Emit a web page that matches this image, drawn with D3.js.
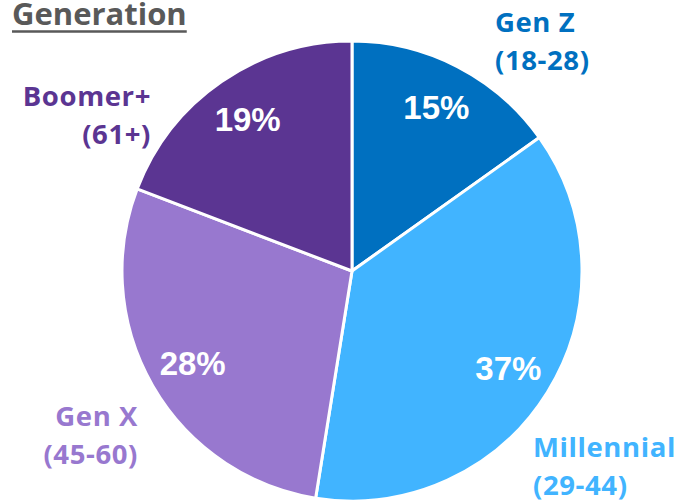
<!DOCTYPE html>
<html>
<head>
<meta charset="utf-8">
<script src="https://cdn.jsdelivr.net/npm/d3@7"></script>
<style>
    body { margin: 0; background: #fff; }
    svg { display: block; }
</style>
</head>
<body>
<svg width="679" height="504"></svg>
<script>
// data
const generations = ["Gen Z", "Millennial", "Gen X", "Boomer+"];
const ageRanges = ["(18-28)", "(29-44)", "(45-60)", "(61+)"];
const shares = [15, 37, 28, 19];
const colors = ["#0070C0", "#41B4FF", "#9878CF", "#5B3592"];

// where the category labels sit (x, first baseline, text-anchor)
const labelLayout = [
    { x: 495, y: 32, anchor: "start" },
    { x: 533, y: 457, anchor: "start" },
    { x: 138, y: 426, anchor: "end" },
    { x: 151, y: 106, anchor: "end" }
];

const svg = d3.select("svg");
const cx = 352, cy = 271, radius = 230;

// title
const title = svg.append("text")
    .attr("x", 12)
    .attr("y", 25)
    .attr("font-family", "'Open Sans', sans-serif")
    .attr("font-weight", "bold")
    .attr("font-size", "31px")
    .attr("fill", "#595959")
    .text("Generation");
const tw = title.node().getComputedTextLength();
svg.append("line")
    .attr("x1", 12).attr("x2", 12 + tw)
    .attr("y1", 31.5).attr("y2", 31.5)
    .attr("stroke", "#595959")
    .attr("stroke-width", 2.5);

const pie = d3.pie().sort(null).value(d => d);
const arcs = pie(shares);

const arc = d3.arc().innerRadius(0).outerRadius(radius);
const labelArc = d3.arc().innerRadius(radius * 0.8).outerRadius(radius * 0.8);

const g = svg.append("g").attr("transform", `translate(${cx},${cy})`);

g.selectAll("path")
    .data(arcs)
    .join("path")
    .attr("d", arc)
    .attr("fill", (d, i) => colors[i])
    .attr("stroke", "#fff")
    .attr("stroke-width", 3)
    .attr("stroke-linejoin", "round");

g.selectAll("text.pct")
    .data(arcs)
    .join("text")
    .attr("class", "pct")
    .attr("x", d => labelArc.centroid(d)[0])
    .attr("y", d => labelArc.centroid(d)[1] + 12)
    .attr("text-anchor", "middle")
    .attr("font-family", "'Liberation Sans', Arial, sans-serif")
    .attr("font-weight", "bold")
    .attr("font-size", "33px")
    .attr("fill", "#fff")
    .text(d => d.value + "%");

// category labels
generations.forEach((name, i) => {
    const pos = labelLayout[i];
    const t = svg.append("text")
        .attr("x", pos.x)
        .attr("y", pos.y)
        .attr("text-anchor", pos.anchor)
        .attr("font-family", "'Open Sans', sans-serif")
        .attr("font-weight", "bold")
        .attr("font-size", "27.5px")
        .attr("letter-spacing", "0.6px")
        .attr("fill", colors[i]);
    t.append("tspan").attr("x", pos.x).text(name);
    t.append("tspan").attr("x", pos.x).attr("dy", 38).text(ageRanges[i]);
});
</script>
</body>
</html>
